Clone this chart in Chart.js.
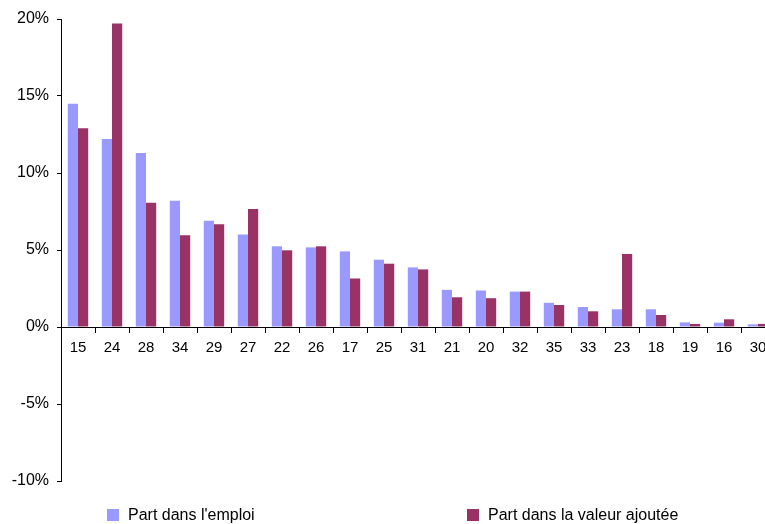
<!DOCTYPE html>
<html>
<head>
<meta charset="utf-8">
<script src="https://cdn.jsdelivr.net/npm/chart.js@4"></script>
<style>
    html, body { margin: 0; padding: 0; background: #fff; }
    #wrap { position: relative; width: 765px; height: 524px; overflow: hidden; }
    #chart { position: absolute; left: 0; top: 0; }
    .legend-item {
        position: absolute; top: 506px;
        font: 16px "Liberation Sans", Arial, sans-serif; color: #000;
        white-space: nowrap; line-height: 18px;
    }
    .legend-item i {
        display: inline-block; width: 12px; height: 12px;
        vertical-align: -1px; margin-right: 9px;
    }
</style>
</head>
<body>
<div id="wrap">
    <canvas id="chart" width="776" height="524"></canvas>
    <div class="legend-item" style="left:107px"><i style="background:#9999FF"></i>Part dans l'emploi</div>
    <div class="legend-item" style="left:467px"><i style="background:#993366"></i>Part dans la valeur ajoutée</div>
</div>
<script>
    // ── Data ──────────────────────────────────────────────────────────────
    const categories = ['15', '24', '28', '34', '29', '27', '22', '26', '17', '25', '31',
                        '21', '20', '32', '35', '33', '23', '18', '19', '16', '30'];
    const partEmploi = [14.5, 12.2, 11.3, 8.2, 6.9, 6.0, 5.24, 5.17, 4.91, 4.37, 3.87,
                        2.41, 2.37, 2.3, 1.57, 1.3, 1.15, 1.15, 0.3, 0.28, 0.17];
    const partValeurAjoutee = [12.9, 19.7, 8.07, 5.96, 6.67, 7.67, 4.98, 5.24, 3.15, 4.11, 3.74,
                        1.93, 1.87, 2.3, 1.43, 1.02, 4.74, 0.78, 0.2, 0.5, 0.2];
    const yTicks = [-10, -5, 0, 5, 10, 15, 20];

    const FAMILY = '"Liberation Sans", Arial, sans-serif';

    new Chart(document.getElementById('chart'), {
        type: 'bar',
        data: {
            labels: categories,
            datasets: [
                { label: "Part dans l'emploi", data: partEmploi, backgroundColor: '#9999FF' },
                { label: 'Part dans la valeur ajoutée', data: partValeurAjoutee, backgroundColor: '#993366' }
            ]
        },
        options: {
            responsive: false,
            animation: false,
            datasets: { bar: { categoryPercentage: 0.6, barPercentage: 1.0 } },
            layout: { padding: { top: 19, bottom: 43, right: 1, left: 0 } },
            plugins: { legend: { display: false }, tooltip: { enabled: false } },
            scales: {
                x: {
                    position: { y: 0 },
                    grid: { drawOnChartArea: false, offset: true, tickLength: 5, color: '#000' },
                    border: { color: '#000' },
                    ticks: { font: { family: FAMILY, size: 15 }, color: '#000', padding: 7, maxRotation: 0, autoSkip: false }
                },
                y: {
                    min: yTicks[0],
                    max: yTicks[yTicks.length - 1],
                    afterBuildTicks: (s) => { s.ticks = yTicks.map(v => ({ value: v })); },
                    afterFit: (s) => { s.width = 61; },
                    grid: { drawOnChartArea: false, tickLength: 4, color: '#000' },
                    border: { color: '#000' },
                    ticks: { font: { family: FAMILY, size: 16 }, color: '#000', padding: 8, callback: v => v + '%' }
                }
            }
        }
    });
</script>
</body>
</html>
